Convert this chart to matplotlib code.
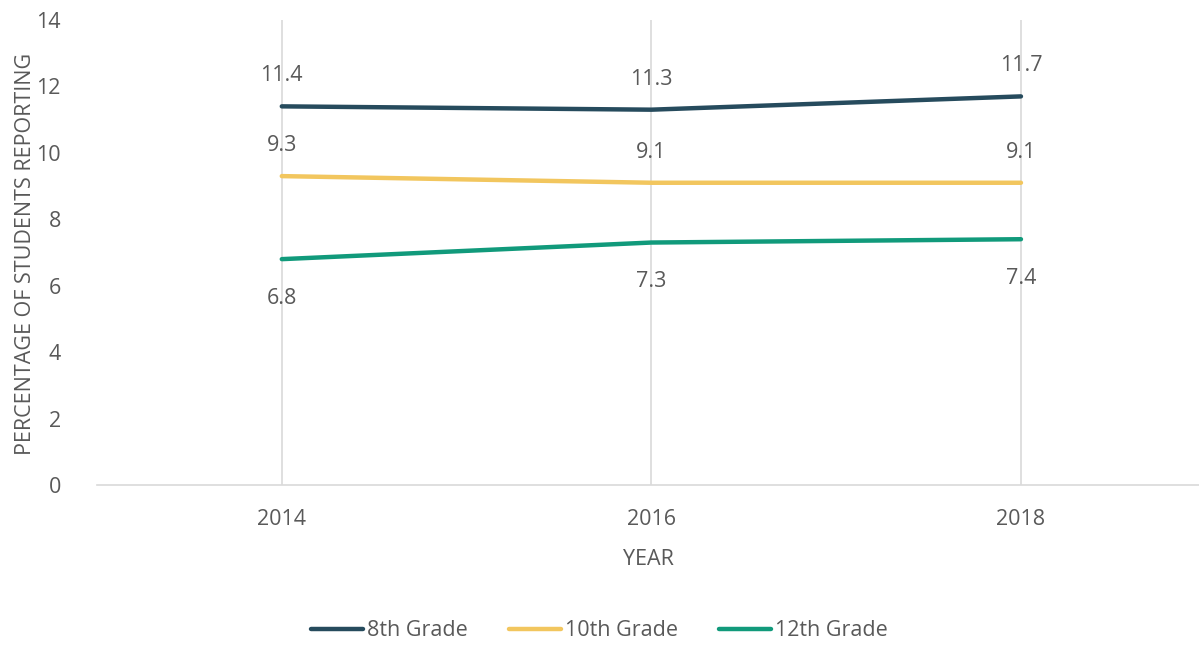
import matplotlib
matplotlib.use("Agg")
import matplotlib.pyplot as plt
from matplotlib.lines import Line2D

plt.rcParams['font.family'] = ['Open Sans', 'DejaVu Sans']

years = ["2014", "2016", "2018"]
grade8 = [11.4, 11.3, 11.7]
grade10 = [9.3, 9.1, 9.1]
grade12 = [6.8, 7.3, 7.4]
series_names = ["8th Grade", "10th Grade", "12th Grade"]
colors = ["#264b5d", "#f2c65e", "#119a7b"]

TXT = "#595959"
FS = 15.5
fig = plt.figure(figsize=(11.99, 6.47), dpi=100)
ax = fig.add_axes([97/1199, 1-485/647, (1199-97)/1199, (485-20)/647])

x = list(range(len(years)))
data = [grade8, grade10, grade12]
above = [True, True, False]
for vals, c, name, up in zip(data, colors, series_names, above):
    ax.plot(x, vals, color=c, lw=3.2, solid_capstyle='round', label=name, zorder=3)
    for xi, v in zip(x, vals):
        ax.annotate(f"{v}", (xi, v), xytext=(0, 22 if up else -28), textcoords='offset points',
                    ha='center', va='center', fontsize=FS, color=TXT)

ax.set_ylim(0, 14)
ax.set_yticks(range(0, 15, 2))
ax.set_xlim(-0.5, (1199-282)/369.5)
ax.set_xticks(x)
ax.set_xticklabels(years)
for xi in x:
    ax.axvline(xi, color="#d9d9d9", lw=1.2, zorder=1)
for s in ['top', 'right', 'left']:
    ax.spines[s].set_visible(False)
ax.spines['bottom'].set_color("#d9d9d9")
ax.spines['bottom'].set_linewidth(1.2)
ax.tick_params(axis='both', length=0, labelsize=FS, colors=TXT)
ax.tick_params(axis='y', pad=26)
ax.tick_params(axis='x', pad=17)
ax.set_xlabel("YEAR", fontsize=FS, color=TXT, labelpad=14)
ax.set_ylabel("PERCENTAGE OF STUDENTS REPORTING", fontsize=FS, color=TXT)
ax.yaxis.set_label_coords((36 - 97) / 1102, 0.497)

handles = [Line2D([0], [0], color=c, lw=3.2, solid_capstyle='round') for c in colors]
leg = fig.legend(handles, series_names, loc='center', bbox_to_anchor=(0.5, 1-631/647), ncol=3,
                 frameon=False, fontsize=FS, labelcolor=TXT, handlelength=2.4, handletextpad=0.2,
                 columnspacing=1.9)

fig.savefig("out.png", dpi=100)
